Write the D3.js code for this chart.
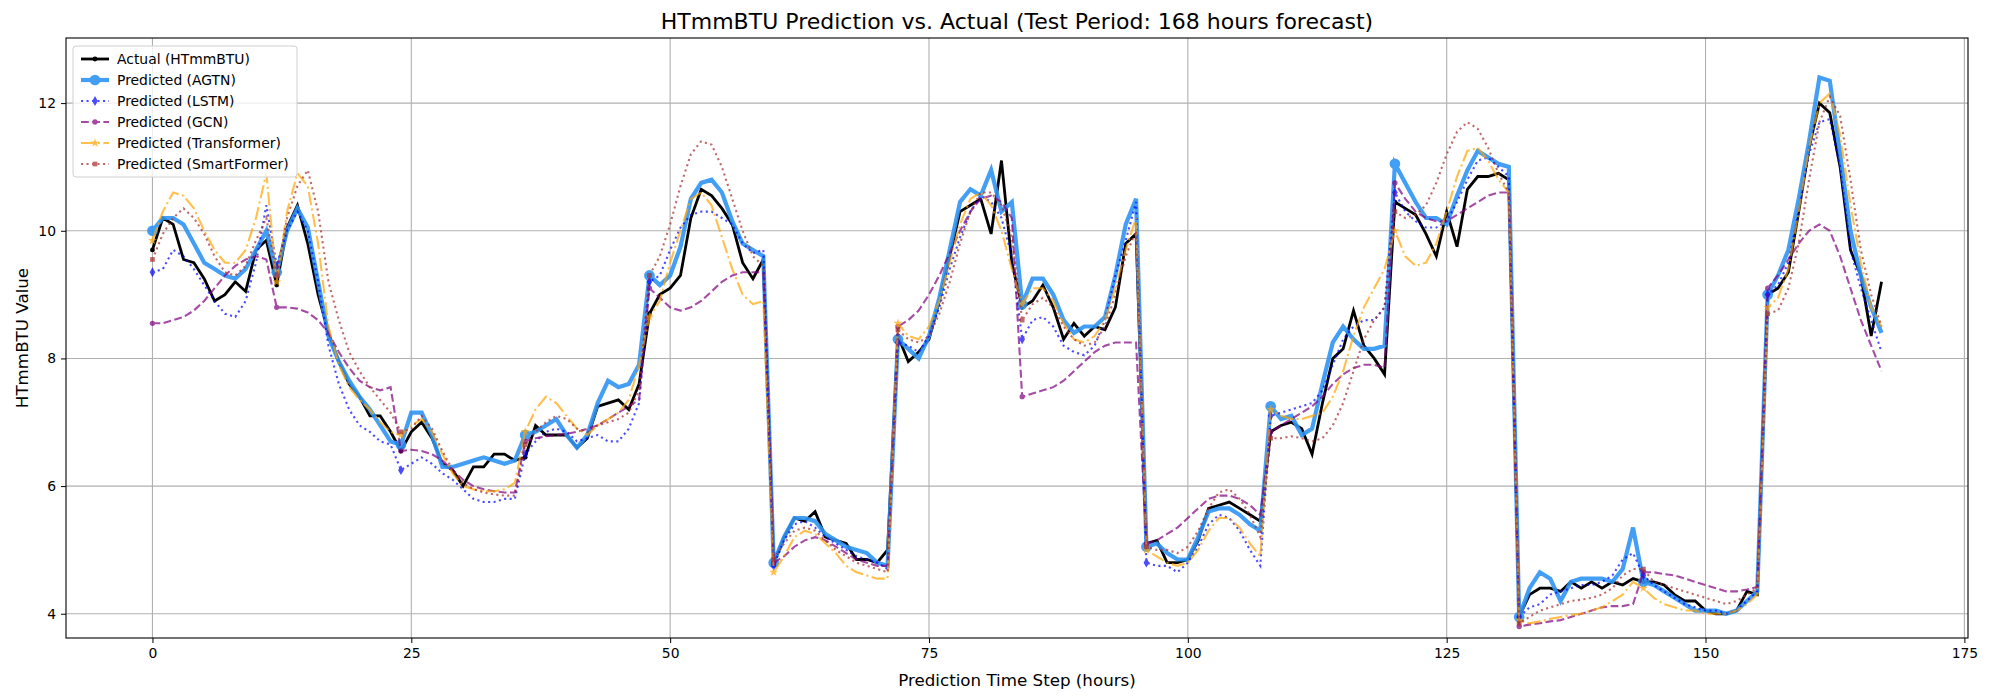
<!DOCTYPE html>
<html>
<head>
<meta charset="UTF-8">
<script src="https://cdn.jsdelivr.net/npm/d3@7"></script>
<style>
  body { margin: 0; background: #fff; }
  text { font-family: "DejaVu Sans", sans-serif; }
</style>
</head>
<body>
<svg id="chart"></svg>
<script>
// Values, one per hour step (0..167)
var actual = [9.7,10.2,10.1,9.55,9.5,9.25,8.9,9.0,9.2,9.05,9.7,9.85,9.15,10.05,10.4,9.8,9.0,8.4,7.95,7.6,7.4,7.1,7.1,6.85,6.55,6.85,7.0,6.75,6.35,6.25,6.0,6.3,6.3,6.5,6.5,6.4,6.45,6.95,6.8,6.8,6.8,6.6,6.75,7.25,7.3,7.35,7.2,7.6,8.7,9.0,9.1,9.3,10.2,10.65,10.55,10.35,10.1,9.5,9.25,9.55,4.8,5.2,5.5,5.45,5.6,5.2,5.15,5.1,4.85,4.85,4.8,5.0,8.35,7.95,8.1,8.3,8.9,9.6,10.3,10.4,10.5,9.95,11.1,9.5,8.8,8.9,9.15,8.8,8.3,8.55,8.35,8.5,8.45,8.8,9.8,9.95,5.1,5.15,4.8,4.8,4.85,5.15,5.65,5.7,5.75,5.65,5.55,5.45,6.85,6.95,7.0,6.9,6.5,7.3,8.0,8.15,8.75,8.2,8.0,7.75,10.45,10.35,10.25,9.95,9.6,10.3,9.75,10.65,10.85,10.85,10.9,10.8,3.95,4.3,4.4,4.4,4.35,4.5,4.4,4.5,4.4,4.5,4.45,4.55,4.5,4.5,4.45,4.3,4.2,4.2,4.05,4.0,4.0,4.05,4.35,4.3,9.0,9.1,9.35,10.3,11.3,12.0,11.85,11.0,9.7,9.3,8.35,9.2];
var agtn = [10.0,10.2,10.2,10.1,9.8,9.5,9.4,9.3,9.25,9.4,9.7,10.0,9.35,10.0,10.35,10.05,9.2,8.35,7.95,7.65,7.4,7.2,6.95,6.7,6.65,7.15,7.15,6.8,6.3,6.3,6.35,6.4,6.45,6.4,6.35,6.4,6.8,6.85,6.95,7.05,6.8,6.6,6.8,7.3,7.65,7.55,7.6,7.9,9.3,9.15,9.3,9.75,10.5,10.75,10.8,10.6,10.15,9.8,9.7,9.6,4.8,5.2,5.5,5.5,5.45,5.25,5.15,5.05,5.0,4.95,4.8,4.75,8.3,8.15,8.0,8.35,8.95,9.7,10.45,10.65,10.55,10.95,10.3,10.45,8.85,9.25,9.25,9.0,8.6,8.4,8.5,8.5,8.65,9.3,10.1,10.5,5.05,5.1,4.95,4.85,4.85,5.2,5.6,5.65,5.65,5.55,5.4,5.3,7.25,7.05,7.1,6.8,6.9,7.6,8.25,8.5,8.3,8.15,8.15,8.2,11.05,10.75,10.45,10.2,10.2,10.1,10.55,10.95,11.25,11.15,11.05,11.0,3.95,4.4,4.65,4.55,4.2,4.5,4.55,4.55,4.55,4.5,4.7,5.35,4.5,4.45,4.35,4.25,4.15,4.05,4.05,4.05,4.0,4.05,4.2,4.35,9.0,9.3,9.7,10.5,11.4,12.4,12.35,11.2,10.0,9.3,8.8,8.4];
var lstm = [9.35,9.4,9.7,9.6,9.4,9.15,8.9,8.7,8.65,8.9,9.5,10.4,9.45,10.0,10.3,10.0,9.2,8.2,7.6,7.2,6.95,6.85,6.7,6.65,6.25,6.35,6.45,6.35,6.2,6.1,5.95,5.8,5.75,5.75,5.8,5.8,6.5,6.7,6.85,6.9,6.85,6.7,6.75,6.8,6.7,6.7,6.9,7.3,9.2,9.3,9.7,10.05,10.25,10.3,10.3,10.2,10.1,9.8,9.65,9.7,4.75,5.15,5.4,5.45,5.35,5.2,5.1,5.0,4.9,4.85,4.8,4.7,8.25,8.2,8.1,8.35,8.8,9.4,9.9,10.3,10.55,10.45,10.2,9.6,8.3,8.6,8.65,8.5,8.2,8.1,8.05,8.2,8.6,9.3,9.85,10.45,4.8,4.75,4.75,4.65,4.8,5.05,5.4,5.55,5.5,5.3,5.0,4.75,7.1,7.15,7.2,7.25,7.3,7.5,7.9,8.3,8.5,8.6,8.6,8.8,10.6,10.3,10.15,10.05,10.05,10.15,10.45,10.8,11.1,11.15,11.0,10.85,3.95,4.1,4.15,4.3,4.35,4.4,4.45,4.45,4.5,4.6,4.85,4.95,4.6,4.45,4.35,4.25,4.15,4.1,4.05,4.05,4.0,4.05,4.2,4.35,9.0,9.15,9.5,10.3,11.2,11.7,11.75,11.0,9.7,9.1,8.6,8.1];
var gcn = [8.55,8.55,8.6,8.65,8.75,8.9,9.1,9.3,9.45,9.55,9.6,9.55,8.8,8.8,8.78,8.72,8.6,8.4,8.1,7.85,7.65,7.55,7.5,7.55,6.55,6.57,6.55,6.5,6.4,6.25,6.1,6.0,5.95,5.92,5.9,5.9,6.7,6.75,6.78,6.8,6.82,6.85,6.9,6.95,7.05,7.15,7.25,7.35,9.1,8.95,8.8,8.75,8.8,8.9,9.05,9.2,9.3,9.35,9.35,9.35,4.8,4.9,5.05,5.15,5.2,5.15,5.05,4.95,4.85,4.8,4.75,4.75,8.5,8.6,8.75,9.0,9.3,9.65,10.0,10.3,10.5,10.55,10.45,10.2,7.4,7.45,7.5,7.55,7.65,7.8,7.95,8.1,8.2,8.25,8.25,8.25,5.1,5.15,5.25,5.35,5.5,5.65,5.8,5.85,5.85,5.8,5.7,5.55,6.85,6.95,7.05,7.15,7.25,7.4,7.6,7.75,7.85,7.9,7.9,7.85,10.75,10.5,10.3,10.2,10.15,10.15,10.25,10.35,10.45,10.55,10.6,10.6,3.8,3.83,3.85,3.88,3.9,3.95,4.0,4.05,4.1,4.12,4.12,4.15,4.65,4.65,4.62,4.6,4.55,4.5,4.45,4.4,4.35,4.35,4.38,4.42,9.1,9.3,9.55,9.8,10.0,10.1,10.0,9.6,9.1,8.6,8.2,7.8];
var transformer = [9.85,10.3,10.6,10.55,10.35,10.0,9.7,9.5,9.5,9.7,10.2,10.9,9.2,10.3,10.9,10.7,9.8,8.5,7.9,7.55,7.35,7.2,7.0,6.85,6.8,6.95,7.05,6.85,6.5,6.2,6.0,5.95,5.92,5.92,5.95,6.05,6.85,7.2,7.4,7.3,7.1,6.9,6.8,6.95,7.05,7.15,7.35,7.9,8.65,8.9,9.5,10.0,10.5,10.6,10.4,9.9,9.4,9.0,8.85,8.9,4.65,4.9,5.2,5.3,5.25,5.1,4.95,4.75,4.65,4.6,4.55,4.55,8.55,8.35,8.3,8.5,8.9,9.5,10.1,10.5,10.6,10.4,10.0,9.4,8.85,9.1,9.1,8.9,8.55,8.3,8.25,8.35,8.6,9.1,9.7,10.2,5.0,4.9,4.8,4.75,4.8,5.0,5.3,5.5,5.5,5.35,5.1,4.9,7.2,7.1,7.05,7.05,7.1,7.15,7.4,7.8,8.35,8.8,9.1,9.4,10.0,9.6,9.45,9.5,9.8,10.3,10.85,11.25,11.3,11.1,10.8,10.6,3.9,3.85,3.88,3.92,3.95,3.98,4.0,4.05,4.1,4.2,4.3,4.5,4.4,4.25,4.15,4.1,4.05,4.05,4.0,4.0,4.0,4.05,4.15,4.3,8.8,8.95,9.4,10.3,11.3,12.0,12.15,11.5,10.4,9.5,8.8,8.5];
var smartformer = [9.55,9.95,10.2,10.35,10.2,9.95,9.6,9.35,9.3,9.45,9.85,10.2,9.3,10.2,10.7,10.95,10.3,9.2,8.6,8.1,7.8,7.55,7.35,7.15,6.85,6.9,7.1,6.9,6.55,6.25,6.05,5.95,5.9,5.87,5.85,5.85,6.65,6.85,7.0,7.1,7.05,6.9,6.85,6.95,7.0,7.05,7.15,7.5,9.3,9.6,10.1,10.7,11.2,11.4,11.35,11.0,10.5,10.0,9.6,9.45,4.85,5.1,5.3,5.35,5.3,5.15,5.0,4.9,4.8,4.75,4.7,4.65,8.45,8.3,8.25,8.35,8.7,9.2,9.8,10.3,10.6,10.6,10.4,9.9,8.6,8.85,8.95,8.8,8.5,8.3,8.2,8.25,8.5,9.0,9.6,10.0,5.05,5.0,5.0,4.95,5.05,5.3,5.65,5.9,5.95,5.8,5.55,5.2,6.75,6.75,6.78,6.75,6.7,6.75,6.95,7.3,7.8,8.3,8.6,8.8,10.3,10.2,10.25,10.4,10.75,11.2,11.55,11.7,11.6,11.3,10.9,10.6,3.85,3.95,4.05,4.1,4.15,4.2,4.22,4.25,4.3,4.4,4.6,4.7,4.7,4.5,4.45,4.4,4.35,4.3,4.25,4.2,4.15,4.2,4.3,4.4,8.7,8.75,9.1,9.8,10.8,11.7,12.1,11.8,10.8,9.7,9.0,8.5];

var xTicks = [0, 25, 50, 75, 100, 125, 150, 175];
var yTicks = [4, 6, 8, 10, 12];
var markEvery = 12;

var width = 2000, height = 700;
var margin = {left: 66, right: 32, top: 38, bottom: 62};

var svg = d3.select("#chart").attr("width", width).attr("height", height);

var x = d3.scaleLinear().domain([-8.35, 175.35]).range([margin.left, width - margin.right]);
var y = d3.scaleLinear().domain([3.62, 13.02]).range([height - margin.bottom, margin.top]);

// grid
svg.append("g").selectAll("line").data(xTicks).enter().append("line")
    .attr("x1", function (d) { return x(d); }).attr("x2", function (d) { return x(d); })
    .attr("y1", margin.top).attr("y2", height - margin.bottom)
    .attr("stroke", "#b0b0b0").attr("stroke-width", 1.1);
svg.append("g").selectAll("line").data(yTicks).enter().append("line")
    .attr("y1", function (d) { return y(d); }).attr("y2", function (d) { return y(d); })
    .attr("x1", margin.left).attr("x2", width - margin.right)
    .attr("stroke", "#b0b0b0").attr("stroke-width", 1.1);

var series = [
    {name: "Actual (HTmmBTU)", data: actual, color: "#000", width: 2.8, dash: null, opacity: 1, symbol: d3.symbolCircle, size: 18},
    {name: "Predicted (AGTN)", data: agtn, color: "#2f95f5", width: 4.2, dash: null, opacity: 0.9, symbol: d3.symbolCircle, size: 90},
    {name: "Predicted (LSTM)", data: lstm, color: "#0000ff", width: 2.1, dash: "2.1,3.4", opacity: 0.7, symbol: d3.symbolDiamond, size: 28},
    {name: "Predicted (GCN)", data: gcn, color: "#800080", width: 2.1, dash: "7.8,3.4", opacity: 0.7, symbol: d3.symbolCircle, size: 22},
    {name: "Predicted (Transformer)", data: transformer, color: "#ffa500", width: 2.1, dash: "13.4,3.4,2.1,3.4", opacity: 0.7, symbol: d3.symbolStar, size: 25},
    {name: "Predicted (SmartFormer)", data: smartformer, color: "#a52a2a", width: 2.1, dash: "2.1,3.4", opacity: 0.7, symbol: d3.symbolSquare, size: 22}
];

var line = d3.line()
    .x(function (d, i) { return x(i); })
    .y(function (d) { return y(d); });

series.forEach(function (s) {
    var g = svg.append("g").attr("opacity", s.opacity);
    g.append("path").datum(s.data)
        .attr("d", line)
        .attr("fill", "none")
        .attr("stroke", s.color)
        .attr("stroke-width", s.width)
        .attr("stroke-dasharray", s.dash);
    g.selectAll("path.m")
        .data(s.data.map(function (v, i) { return [i, v]; }).filter(function (d) { return d[0] % markEvery === 0; }))
        .enter().append("path").attr("class", "m")
        .attr("transform", function (d) { return "translate(" + x(d[0]) + "," + y(d[1]) + ")"; })
        .attr("d", d3.symbol().type(s.symbol).size(s.size))
        .attr("fill", s.color);
});

// axes
svg.append("g")
    .attr("transform", "translate(0," + (height - margin.bottom) + ")")
    .call(d3.axisBottom(x).tickValues(xTicks).tickSize(5).tickPadding(5))
    .call(function (g) { g.select(".domain").remove(); g.selectAll("text").attr("font-size", 13.9).attr("fill", "#000"); });
svg.append("g")
    .attr("transform", "translate(" + margin.left + ",0)")
    .call(d3.axisLeft(y).tickValues(yTicks).tickSize(5).tickPadding(5))
    .call(function (g) { g.select(".domain").remove(); g.selectAll("text").attr("font-size", 13.9).attr("fill", "#000"); });

svg.append("rect")
    .attr("x", margin.left).attr("y", margin.top)
    .attr("width", width - margin.left - margin.right)
    .attr("height", height - margin.top - margin.bottom)
    .attr("fill", "none").attr("stroke", "#000").attr("stroke-width", 1.1);

svg.append("text")
    .attr("x", (margin.left + width - margin.right) / 2).attr("y", 29)
    .attr("text-anchor", "middle").attr("font-size", 22)
    .text("HTmmBTU Prediction vs. Actual (Test Period: 168 hours forecast)");
svg.append("text")
    .attr("x", (margin.left + width - margin.right) / 2).attr("y", height - 14)
    .attr("text-anchor", "middle").attr("font-size", 16.7)
    .text("Prediction Time Step (hours)");
svg.append("text")
    .attr("transform", "translate(28," + ((margin.top + height - margin.bottom) / 2) + ") rotate(-90)")
    .attr("text-anchor", "middle").attr("font-size", 16.7)
    .text("HTmmBTU Value");

// legend
var legend = svg.append("g").attr("transform", "translate(73,46)");
legend.append("rect")
    .attr("width", 224).attr("height", 131).attr("rx", 3)
    .attr("fill", "#fff").attr("fill-opacity", 0.8)
    .attr("stroke", "#d0d0d0");
series.forEach(function (s, i) {
    var row = legend.append("g").attr("transform", "translate(0," + (13 + i * 21) + ")");
    var g = row.append("g").attr("opacity", s.opacity);
    g.append("line").attr("x1", 8).attr("x2", 36)
        .attr("stroke", s.color).attr("stroke-width", s.width)
        .attr("stroke-dasharray", s.dash);
    g.append("path").attr("transform", "translate(22,0)")
        .attr("d", d3.symbol().type(s.symbol).size(s.size))
        .attr("fill", s.color);
    row.append("text").attr("x", 44).attr("y", 5)
        .attr("font-size", 13.9).text(s.name);
});
</script>
</body>
</html>
